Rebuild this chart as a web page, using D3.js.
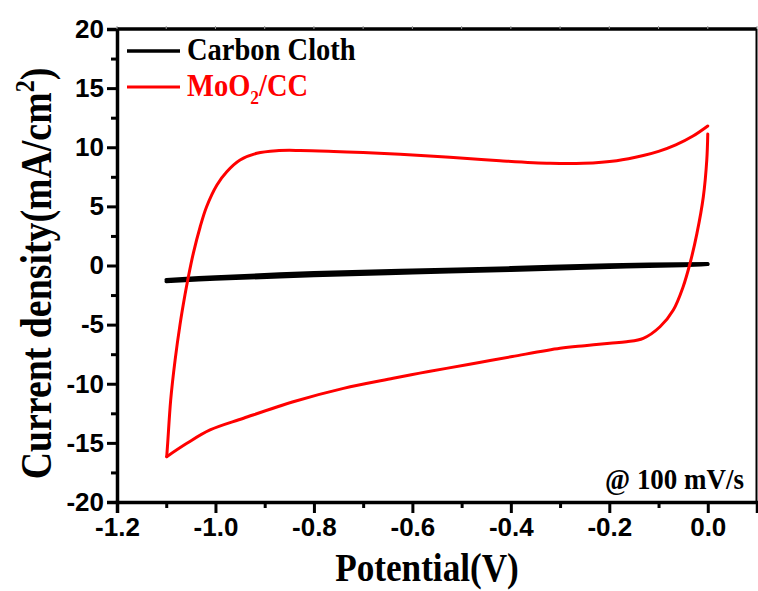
<!DOCTYPE html>
<html>
<head>
<meta charset="utf-8">
<script src="https://cdn.jsdelivr.net/npm/d3@7"></script>
<style>
  body { margin: 0; background: #fff; }
  svg { display: block; }
</style>
</head>
<body>
<div id="chart"></div>
<script>
// axis ticks
const xMajorTicks = [-1.2, -1.0, -0.8, -0.6, -0.4, -0.2, 0.0];
const xMinorTicks = [-1.1, -0.9, -0.7, -0.5, -0.3, -0.1, 0.1];
const yMajorTicks = [-20, -15, -10, -5, 0, 5, 10, 15, 20];
const yMinorTicks = [-17.5, -12.5, -7.5, -2.5, 2.5, 7.5, 12.5, 17.5];

// MoO2/CC, cathodic sweep (0 V -> -1.1 V)
const mooCathodic = [
  [0.0, 11.12], [-0.002, 8.92], [-0.009, 5.82], [-0.022, 2.72], [-0.036, 0.19],
  [-0.05, -1.79], [-0.07, -3.76], [-0.097, -5.18], [-0.131, -6.16],
  [-0.165, -6.45], [-0.199, -6.58], [-0.25, -6.78], [-0.3, -7.0],
  [-0.397, -7.7], [-0.464, -8.2], [-0.531, -8.7], [-0.585, -9.1],
  [-0.639, -9.54], [-0.74, -10.39], [-0.842, -11.52], [-0.943, -12.92],
  [-1.011, -13.91], [-1.058, -15.04], [-1.099, -16.17]
];
// MoO2/CC, anodic sweep (-1.1 V -> 0 V)
const mooAnodic = [
  [-1.099, -16.17], [-1.097, -15.0], [-1.091, -11.4], [-1.082, -8.0],
  [-1.072, -5.0], [-1.062, -2.5], [-1.055, -0.95], [-1.045, 1.03],
  [-1.031, 3.28], [-1.018, 4.97], [-0.997, 6.81], [-0.977, 7.93],
  [-0.95, 8.92], [-0.916, 9.49], [-0.876, 9.71], [-0.828, 9.73],
  [-0.76, 9.65], [-0.7, 9.55], [-0.625, 9.4], [-0.524, 9.15],
  [-0.422, 8.86], [-0.32, 8.64], [-0.253, 8.64], [-0.185, 8.86],
  [-0.131, 9.3], [-0.1, 9.65], [-0.065, 10.2], [-0.03, 10.95], [0.0, 11.8]
];
// Carbon cloth
const ccCathodic = [
  [0.0, 0.1], [-0.05, 0.0], [-0.2, -0.15], [-0.4, -0.4], [-0.6, -0.62],
  [-0.8, -0.85], [-1.0, -1.15], [-1.1, -1.35]
];
const ccAnodic = [
  [-1.1, -1.2], [-1.0, -0.97], [-0.8, -0.62], [-0.6, -0.4], [-0.4, -0.2],
  [-0.2, 0.05], [0.0, 0.15]
];

const width = 758, height = 591;
const margin = { left: 117, right: 1, top: 29, bottom: 89 };

const svg = d3.select("#chart").append("svg")
  .attr("width", width)
  .attr("height", height);

const x = d3.scaleLinear().domain([-1.2, 0.1]).range([margin.left, width - margin.right]);
const y = d3.scaleLinear().domain([-20, 20]).range([height - margin.bottom, margin.top]);

const fmtX = d => d.toFixed(1);
const fmtY = d => String(d);
const serif = "'Liberation Serif', 'Times New Roman', serif";
const sans = "'Liberation Sans', Arial, sans-serif";

// curves
const line = d3.line()
  .x(d => x(d[0]))
  .y(d => y(d[1]))
  .curve(d3.curveCatmullRom.alpha(0.5));

const curves = svg.append("g");
[ccCathodic, ccAnodic].forEach(s => {
  curves.append("path").attr("d", line(s))
    .attr("fill", "none").attr("stroke", "#000").attr("stroke-width", 3.5)
    .attr("stroke-linecap", "round");
});
[mooCathodic, mooAnodic].forEach(s => {
  curves.append("path").attr("d", line(s))
    .attr("fill", "none").attr("stroke", "#ff0000").attr("stroke-width", 3)
    .attr("stroke-linejoin", "round").attr("stroke-linecap", "round");
});

// bottom axis
const xAxisMinor = d3.axisBottom(x).tickValues(xMinorTicks).tickSize(6).tickFormat("");
const xAxis = d3.axisBottom(x).tickValues(xMajorTicks).tickSize(11).tickPadding(5).tickFormat(fmtX);
svg.append("g").attr("transform", `translate(0,${y(-20)})`).call(xAxisMinor)
  .call(g => g.select(".domain").remove())
  .selectAll("line").attr("stroke-width", 3);
const gx = svg.append("g").attr("transform", `translate(0,${y(-20)})`).call(xAxis);
gx.select(".domain").attr("stroke-width", 3.5);
gx.selectAll("line").attr("stroke-width", 3);
gx.selectAll("text")
  .attr("font-family", sans)
  .attr("font-weight", "bold").attr("font-size", 26).attr("fill", "#000");

// left axis
const yAxisMinor = d3.axisLeft(y).tickValues(yMinorTicks).tickSize(6).tickFormat("");
const yAxis = d3.axisLeft(y).tickValues(yMajorTicks).tickSize(10).tickPadding(3).tickFormat(fmtY);
svg.append("g").attr("transform", `translate(${x(-1.2)},0)`).call(yAxisMinor)
  .call(g => g.select(".domain").remove())
  .selectAll("line").attr("stroke-width", 3);
const gy = svg.append("g").attr("transform", `translate(${x(-1.2)},0)`).call(yAxis);
gy.select(".domain").attr("stroke-width", 3.5);
gy.selectAll("line").attr("stroke-width", 3);
gy.selectAll("text")
  .attr("font-family", sans)
  .attr("font-weight", "bold").attr("font-size", 26).attr("fill", "#000");

// top and right frame
svg.append("line").attr("x1", x(-1.2)).attr("x2", x(0.1)).attr("y1", y(20)).attr("y2", y(20))
  .attr("stroke", "#000").attr("stroke-width", 3.5);
svg.append("line").attr("x1", x(0.1) - 0.5).attr("x2", x(0.1) - 0.5).attr("y1", y(20)).attr("y2", y(-20))
  .attr("stroke", "#000").attr("stroke-width", 2);
svg.append("g").selectAll("line").data(xMajorTicks.concat(xMinorTicks)).join("line")
  .attr("x1", d => x(d)).attr("x2", d => x(d))
  .attr("y1", y(20) - 3).attr("y2", y(20))
  .attr("stroke", "#999").attr("stroke-width", 1);

// axis titles (the original font is a bit condensed)
svg.append("text")
  .attr("transform", `translate(${(x(-1.2) + x(0.1)) / 2 - 10},581) scale(0.88,1)`)
  .attr("text-anchor", "middle")
  .attr("font-family", serif)
  .attr("font-weight", "bold").attr("font-size", 40)
  .text("Potential(V)");

const yt = svg.append("text")
  .attr("transform", `translate(51,${(y(20) + y(-20)) / 2 + 8}) rotate(-90) scale(0.86,1)`)
  .attr("text-anchor", "middle")
  .attr("font-family", serif)
  .attr("font-weight", "bold").attr("font-size", 44);
yt.append("tspan").text("Current density(mA/cm");
yt.append("tspan").attr("font-size", 28).attr("dy", -17).text("2");
yt.append("tspan").attr("dy", 17).text(")");

// legend
const legendKeys = ["Carbon Cloth", "MoO2/CC"];
const legendColors = ["#000", "#ff0000"];
const legend = svg.append("g");
legendKeys.forEach((k, i) => {
  const ly = 51 + i * 36;
  legend.append("line").attr("x1", 127).attr("x2", 180).attr("y1", ly).attr("y2", ly)
    .attr("stroke", legendColors[i]).attr("stroke-width", i === 0 ? 3.5 : 3);
  const t = legend.append("text")
    .attr("transform", `translate(187,${ly + 9}) scale(0.92,1)`)
    .attr("font-family", serif)
    .attr("font-weight", "bold").attr("font-size", 31).attr("fill", legendColors[i]);
  if (k === "MoO2/CC") {
    t.append("tspan").text("MoO");
    t.append("tspan").attr("font-size", 19).attr("dy", 8).text("2");
    t.append("tspan").attr("dy", -8).text("/CC");
  } else {
    t.text(k);
  }
});

// scan rate note
svg.append("text")
  .attr("transform", "translate(744,489) scale(0.93,1)")
  .attr("text-anchor", "end")
  .attr("font-family", serif)
  .attr("font-weight", "bold").attr("font-size", 29)
  .text("@ 100 mV/s");
</script>
</body>
</html>
